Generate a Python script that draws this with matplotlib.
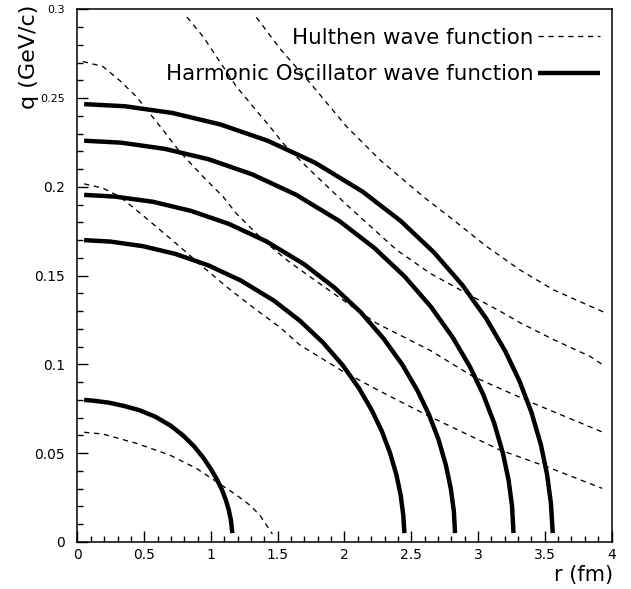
import matplotlib
matplotlib.use("Agg")
import matplotlib.pyplot as plt
from matplotlib.ticker import MultipleLocator, FuncFormatter

# Harmonic oscillator wave function curves (r in fm, q in GeV/c)
ho_r1 = [0.05, 0.116, 0.233, 0.349, 0.465, 0.582, 0.698, 0.791, 0.872, 0.942,
         1.000, 1.047, 1.082, 1.111, 1.134, 1.149, 1.160]
ho_q1 = [0.0800, 0.0796, 0.0785, 0.0766, 0.0742, 0.0706, 0.0655, 0.0600, 0.0540, 0.0475,
         0.0410, 0.0349, 0.0294, 0.0237, 0.0178, 0.0124, 0.005]

ho_r2 = [0.05, 0.245, 0.49, 0.735, 0.98, 1.225, 1.47, 1.666, 1.838, 1.985,
         2.107, 2.205, 2.279, 2.340, 2.389, 2.421, 2.440, 2.449]
ho_q2 = [0.170, 0.1692, 0.1666, 0.1622, 0.1558, 0.1472, 0.136, 0.1246, 0.1124, 0.0997,
         0.0868, 0.0741, 0.0625, 0.0504, 0.0378, 0.0263, 0.0152, 0.005]

ho_r3 = [0.05, 0.283, 0.566, 0.849, 1.132, 1.415, 1.698, 1.924, 2.123, 2.292,
         2.434, 2.547, 2.632, 2.703, 2.759, 2.796, 2.819, 2.828]
ho_q3 = [0.1955, 0.1945, 0.1916, 0.1865, 0.1792, 0.1693, 0.1564, 0.1433, 0.1293, 0.1146,
         0.0998, 0.0852, 0.0719, 0.0580, 0.0434, 0.0302, 0.0175, 0.005]

ho_r4 = [0.05, 0.327, 0.654, 0.980, 1.307, 1.634, 1.961, 2.222, 2.451, 2.647,
         2.810, 2.941, 3.039, 3.121, 3.186, 3.229, 3.255, 3.266]
ho_q4 = [0.226, 0.2249, 0.2214, 0.2156, 0.2071, 0.1957, 0.1808, 0.1657, 0.1495, 0.1325,
         0.1153, 0.0985, 0.0831, 0.0670, 0.0502, 0.0349, 0.0202, 0.005]

ho_r5 = [0.05, 0.356, 0.712, 1.068, 1.424, 1.780, 2.136, 2.421, 2.670, 2.884,
         3.062, 3.204, 3.311, 3.400, 3.471, 3.517, 3.546, 3.560]
ho_q5 = [0.2466, 0.2454, 0.2416, 0.2352, 0.2260, 0.2136, 0.1973, 0.1808, 0.1631, 0.1446,
         0.1258, 0.1075, 0.0906, 0.0731, 0.0548, 0.0381, 0.0220, 0.005]

# Hulthen wave function curves
hu_r1 = [0.05, 0.19, 0.44, 0.69, 0.89, 1.06, 1.19, 1.29, 1.365, 1.46]
hu_q1 = [0.0618, 0.0608, 0.0556, 0.049, 0.0415, 0.033, 0.0265, 0.0208, 0.0152, 0.0045]

hu_r2 = [0.05, 0.19, 0.315, 0.44, 0.59, 0.765, 0.94, 1.115, 1.34, 1.515, 1.665,
         1.99, 2.265, 2.615, 3.165, 3.515, 3.93]
hu_q2 = [0.2017, 0.1993, 0.1946, 0.187, 0.1776, 0.1664, 0.155, 0.1438, 0.1307, 0.121, 0.111,
         0.096, 0.085, 0.0715, 0.0518, 0.0424, 0.0302]

hu_r3 = [0.04, 0.19, 0.315, 0.44, 0.53, 0.64, 0.765, 0.94, 1.09, 1.19, 1.39, 1.565,
         1.665, 2.04, 2.24, 2.64, 2.965, 3.415, 3.93]
hu_q3 = [0.2706, 0.2678, 0.260, 0.2509, 0.2424, 0.2321, 0.2199, 0.2058, 0.1945, 0.185, 0.170, 0.159,
         0.1535, 0.1335, 0.1232, 0.108, 0.0931, 0.0781, 0.062]

hu_r4 = [0.82, 0.94, 1.065, 1.19, 1.315, 1.44, 1.54, 1.60, 1.79, 2.015, 2.39, 2.64,
         2.915, 3.165, 3.315, 3.565, 3.84, 3.95]
hu_q4 = [0.2956, 0.2847, 0.2706, 0.2565, 0.2452, 0.234, 0.2246, 0.2199, 0.206, 0.190, 0.1645, 0.1514,
         0.140, 0.130, 0.1235, 0.114, 0.1045, 0.099]

hu_r5 = [1.34, 1.515, 1.765, 2.015, 2.265, 2.59, 2.815, 3.065, 3.315, 3.565, 3.95]
hu_q5 = [0.2955, 0.278, 0.2565, 0.234, 0.2152, 0.1945, 0.1814, 0.1664, 0.1532, 0.142, 0.1292]

ho_curves = [(ho_r1, ho_q1), (ho_r2, ho_q2), (ho_r3, ho_q3), (ho_r4, ho_q4), (ho_r5, ho_q5)]
hu_curves = [(hu_r1, hu_q1), (hu_r2, hu_q2), (hu_r3, hu_q3), (hu_r4, hu_q4), (hu_r5, hu_q5)]

fig = plt.figure(figsize=(6.31, 5.89), dpi=100)
ax = fig.add_axes([0.1228, 0.0798, 0.8463, 0.9044])

for i, (r, q) in enumerate(hu_curves):
    ax.plot(r, q, color="black", lw=0.95, linestyle=(0, (4, 3.5)),
            label="Hulthen wave function" if i == 0 else None)
for i, (r, q) in enumerate(ho_curves):
    ax.plot(r, q, color="black", lw=3.2, solid_capstyle="butt", solid_joinstyle="round",
            label="Harmonic Oscillator wave function" if i == 0 else None)

ax.set_xlim(0, 4)
ax.set_ylim(0, 0.3)
ax.xaxis.set_major_locator(MultipleLocator(0.5))
ax.xaxis.set_minor_locator(MultipleLocator(0.1))
ax.yaxis.set_major_locator(MultipleLocator(0.05))
ax.yaxis.set_minor_locator(MultipleLocator(0.01))
fmt = FuncFormatter(lambda v, p: "%g" % round(v, 3))
ax.xaxis.set_major_formatter(fmt)
ax.yaxis.set_major_formatter(fmt)
ax.tick_params(which="both", direction="in", top=False, right=False, width=1)
ax.tick_params(which="major", length=8, labelsize=10)
ax.tick_params(axis="x", which="major", pad=4)
ax.tick_params(axis="y", which="major", pad=9)
ax.tick_params(which="minor", length=4)
for s in ax.spines.values():
    s.set_linewidth(1.1)

# the two top y labels sit under the axis title and come out smaller
fig.canvas.draw()
for t in ax.get_yticklabels():
    if t.get_text() in ("0.25", "0.3"):
        t.set_fontsize(8)

leg = ax.legend(loc="upper right", bbox_to_anchor=(0.9785, 0.965), frameon=False,
                markerfirst=False, fontsize=15.4, handlelength=2.9, handletextpad=0.2,
                labelspacing=0.75, borderpad=0, borderaxespad=0)

fig.text(613 / 631, 1 - 575 / 589, "r (fm)", ha="right", va="center", fontsize=15)
fig.text(29 / 631, 1 - 5 / 589, "q (GeV/c)", rotation=90, ha="center", va="top", fontsize=16)

fig.savefig("out.png", dpi=100)
